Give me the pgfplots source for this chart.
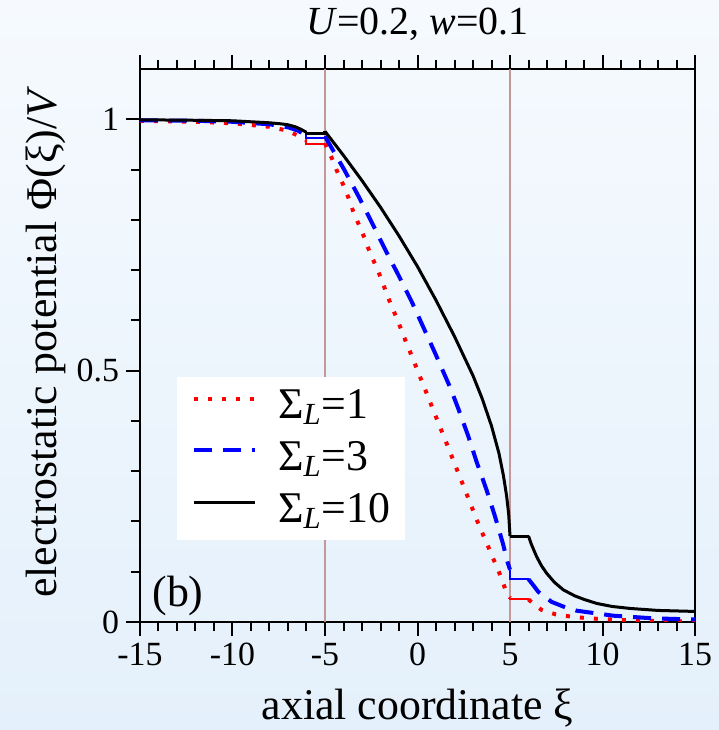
\documentclass[border=0pt]{standalone}
\usepackage{fontspec}
\setmainfont{Liberation Serif}[Ligatures=TeX]
\usepackage{pgfplots}
\pgfplotsset{compat=1.18}
\definecolor{bgtop}{HTML}{F6FAFE}
\definecolor{bgbot}{HTML}{E4F0FB}
\definecolor{gate}{HTML}{C49898}
\definecolor{sred}{HTML}{FF0000}
\definecolor{sblue}{HTML}{0000FF}

\begin{document}
\begin{tikzpicture}
\path[use as bounding box] (-70bp,-54bp) rectangle (289.5bp,311bp);
\shade[top color=bgtop,bottom color=bgbot] (-70bp,-54bp) rectangle (289.5bp,311bp);
\begin{axis}[at={(0,0)},anchor=south west,scale only axis,width=277.5bp,height=276.5bp,
  xmin=-15,xmax=15,ymin=0,ymax=1.1,
  xtick={-15,-10,-5,0,5,10,15},xticklabels={-15,-10,-5,0,5,10,15},
  minor xtick={-14,-13,-12,-11,-9,-8,-7,-6,-4,-3,-2,-1,1,2,3,4,6,7,8,9,11,12,13,14},
  ytick={0,0.5,1},yticklabels={0,0.5,1},
  minor ytick={0.1,0.2,0.3,0.4,0.6,0.7,0.8,0.9},
  xtick pos=both,xticklabel pos=lower,ytick pos=left,
  tick align=outside,major tick length=7bp,minor tick length=4.5bp,
  axis line style={line width=1.1bp},
  every tick/.style={black,line width=1bp},
  tick label style={font=\fontsize{17}{20}\selectfont},
  xlabel={axial coordinate ξ},
  ylabel={electrostatic potential Φ(ξ)/\textit{V}},
  label style={font=\fontsize{22}{26}\selectfont},
  xlabel style={at={(axis description cs:0.5,-0.177)},anchor=base},
  ylabel style={at={(axis description cs:-0.150,0.506)},anchor=base},
  title={\textit{U}=0.2, \textit{w}=0.1},
  title style={font=\fontsize{20}{24}\selectfont,at={(axis description cs:0.5,1.040)},anchor=base},
  legend style={at={(rel axis cs:0.066,0.4436)},anchor=north west,draw=none,fill=white,
    font=\fontsize{22}{26}\selectfont,inner xsep=7.5bp,inner ysep=3.2bp,row sep=2.25bp,column sep=10.5bp,
    nodes={inner sep=0pt,text height=17.6bp,text depth=6bp}},
  legend cell align=left,
  legend image code/.code={\draw[#1] (0bp,4.2bp) -- (30.5bp,4.2bp);},
]
\draw[gate,line width=0.8bp] (axis cs:-5,0) -- (axis cs:-5,1.1);
\draw[gate,line width=0.8bp] (axis cs:5,0) -- (axis cs:5,1.1);

% main branches between the two gates
\addplot[sred,line width=2bp,dash pattern=on 2bp off 5bp] coordinates {
(-5,0.952) (-4.66,0.925) (-4.35,0.897) (-4.03,0.871) (-3.72,0.843) (-3.46,0.815) (-3.13,0.787)
(-2.83,0.761) (-2.56,0.733) (-2.23,0.707) (-1.92,0.679) (-1.65,0.651) (-1.35,0.624) (-1.04,0.597)
(-0.76,0.570) (-0.45,0.542) (-0.16,0.515) (0.43,0.461) (1.02,0.406) (1.62,0.351) (2.21,0.296)
(2.79,0.242) (3.38,0.187) (3.71,0.160) (4.01,0.133) (4.32,0.107) (4.61,0.080) (4.79,0.060) (5,0.048)};
\addplot[sblue,line width=2bp,dash pattern=on 9bp off 5.5bp] coordinates {
(-5,0.966) (-3.95,0.899) (-3.19,0.847) (-2.46,0.794) (-1.75,0.741) (-1.03,0.690) (-0.31,0.637)
(0.32,0.586) (0.95,0.535) (1.76,0.467) (2.21,0.424) (2.75,0.369) (3.2,0.318) (3.74,0.262)
(4.19,0.210) (4.61,0.157) (4.86,0.120) (5,0.104)};
\addplot[black,line width=1.5bp] coordinates {
(-5,0.976) (-4,0.928) (-3,0.878) (-2,0.825) (-1,0.768) (0,0.707) (1,0.640) (2,0.568)
(3,0.490) (3.5,0.444) (4,0.390) (4.4,0.336) (4.65,0.290) (4.82,0.250) (4.93,0.214) (5,0.171)};
\legend{Σ\textsubscript{\textit{L}}=1,Σ\textsubscript{\textit{L}}=3,Σ\textsubscript{\textit{L}}=10}

% outer branches
\addplot[forget plot,sred,line width=2bp,dash pattern=on 2bp off 5bp] coordinates {
(-15,0.997) (-12,0.995) (-10,0.992) (-8,0.985) (-7,0.977) (-6.5,0.968) (-6,0.958)};
\addplot[forget plot,sblue,line width=2bp,dash pattern=on 9bp off 5.5bp] coordinates {
(-15,0.998) (-12,0.997) (-10,0.995) (-8,0.990) (-7,0.984) (-6.5,0.978) (-6,0.968)};
\addplot[forget plot,black,line width=1.5bp] coordinates {
(-15,0.999) (-12,0.998) (-10,0.997) (-9,0.995) (-8,0.993) (-7.4,0.991) (-7,0.989) (-6.6,0.985) (-6.3,0.980) (-6,0.974)};
\addplot[forget plot,sred,line width=2bp,dash pattern=on 2bp off 5bp] coordinates {
(6,0.045) (6.3,0.035) (6.71,0.024) (7.48,0.015) (8.24,0.011) (9.05,0.008) (9.86,0.006) (11,0.004) (13,0.002) (15,0.001)};
\addplot[forget plot,sblue,line width=2bp,dash pattern=on 9bp off 5.5bp] coordinates {
(6,0.085) (6.2,0.076) (6.53,0.060) (7.25,0.040) (8.0,0.029) (8.6,0.0225) (10.57,0.0126) (12.73,0.0073) (15,0.005)};
\addplot[forget plot,black,line width=1.5bp] coordinates {
(6,0.171) (6.15,0.155) (6.3,0.142) (6.44,0.130) (6.7,0.112) (6.98,0.097) (7.4,0.079) (7.88,0.064) (8.5,0.052) (9,0.045) (9.68,0.037) (10.5,0.031) (11.48,0.027) (13,0.023) (15,0.021)};

% steps across the gate regions
\addplot[forget plot,sred,line width=1bp] coordinates {(-6,0.958) (-6,0.950) (-5,0.950) (-5,0.952)};
\addplot[forget plot,sblue,line width=1bp] coordinates {(-6,0.968) (-6,0.962) (-5,0.962) (-5,0.966)};
\addplot[forget plot,black,line width=1.5bp] coordinates {(-6,0.974) (-6,0.971) (-5,0.971) (-5,0.976)};
\addplot[forget plot,sred,line width=1bp] coordinates {(5,0.048) (5,0.045) (6,0.045)};
\addplot[forget plot,sblue,line width=1bp] coordinates {(5,0.104) (5,0.085) (6,0.085)};
\addplot[forget plot,black,line width=1.5bp] coordinates {(5,0.171) (6,0.171)};

\node[anchor=base west,inner sep=0pt,font=\fontsize{22}{26}\selectfont] at (axis cs:-14.35,0.03) {(b)};
\end{axis}
\end{tikzpicture}
\end{document}
